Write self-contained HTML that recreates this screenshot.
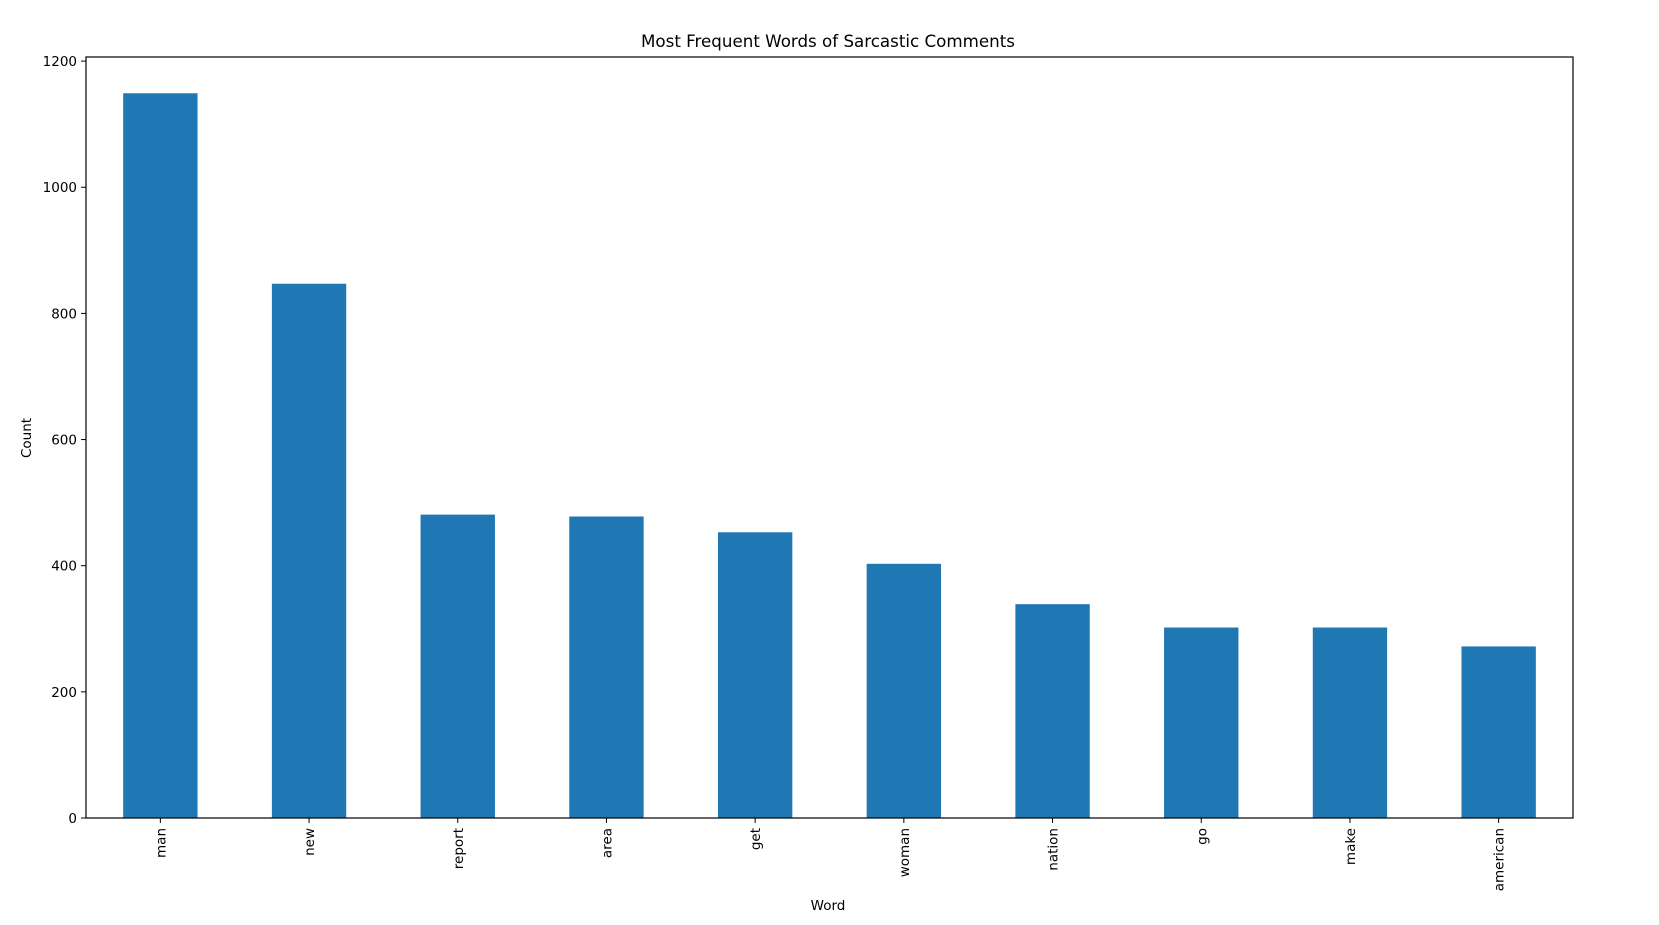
<!DOCTYPE html>
<html><head><meta charset="utf-8"><style>
body{margin:0;background:#fff;}
svg text{font-family:"DejaVu Sans","Liberation Sans",sans-serif;fill:#000;}
</style></head><body>
<svg id="chart" width="1659" height="920" xmlns="http://www.w3.org/2000/svg">
<rect width="1659" height="920" fill="#fff"/>
<text x="828" y="47" font-size="16.7" text-anchor="middle">Most Frequent Words of Sarcastic Comments</text>
<g id="bars"></g><g id="axes"></g>
<text x="828" y="910" font-size="13.5" text-anchor="middle">Word</text>
<text transform="translate(31,438) rotate(-90)" font-size="13.5" text-anchor="middle">Count</text>
</svg>
<script>
const categories=["man","new","report","area","get","woman","nation","go","make","american"];
const counts=[1149,847,481,478,453,403,339,302,302,272];
const yTicks=[0,200,400,600,800,1000,1200];
const L=86,R=1573,T=57,B=818,YMAX=1206.5;
const ns="http://www.w3.org/2000/svg";
const y=v=>B-(v/YMAX)*(B-T);
const slot=(R-L)/categories.length;
const x=i=>L+slot*(i+0.5);
const bars=document.getElementById('bars'),axes=document.getElementById('axes');
function mk(tag,attrs,parent){const e=document.createElementNS(ns,tag);for(const k in attrs)e.setAttribute(k,attrs[k]);parent.appendChild(e);return e;}
categories.forEach((c,i)=>{
 const r=mk('rect',{x:x(i)-slot/4,y:y(counts[i]),width:slot/2,height:B-y(counts[i]),fill:'#1f77b4'},bars);
 
 
 const t=mk('line',{x1:x(i),x2:x(i),y1:B,y2:B+5,stroke:'#000','stroke-width':1},axes);
 
 
 const lb=mk('text',{transform:`translate(${x(i)+5},${B+10}) rotate(-90)`,'font-size':13.5,'text-anchor':'end'},axes);
 lb.textContent=c;
 
 
});
yTicks.forEach(v=>{
 const t=mk('line',{x1:L-5,x2:L,y1:y(v),y2:y(v),stroke:'#000','stroke-width':1},axes);
 
 
 const lb=mk('text',{x:L-9,y:y(v)+5,'font-size':13.5,'text-anchor':'end'},axes);
 lb.textContent=v;
 
 
});
const f=mk('rect',{x:L,y:T,width:R-L,height:B-T,fill:'none',stroke:'#000','stroke-width':1.2},axes);


</script>
</body></html>
